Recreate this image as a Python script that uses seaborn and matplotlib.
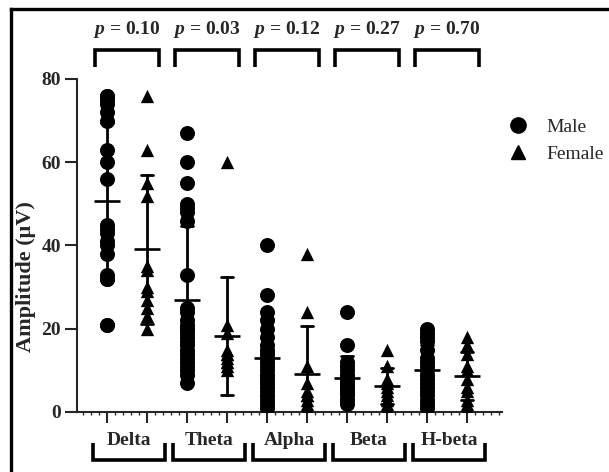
import pandas as pd
import numpy as np
import matplotlib
matplotlib.use('Agg')
import matplotlib.pyplot as plt
import seaborn as sns
from matplotlib.lines import Line2D
from matplotlib.ticker import MultipleLocator

# 频段与 p 值
bands = ['Delta', 'Theta', 'Alpha', 'Beta', 'H-beta']
p_values = ['0.10', '0.03', '0.12', '0.27', '0.70']

# 每组振幅 (μV)
delta_male = [76, 76, 75, 74, 72, 70, 63, 60, 56, 45, 44, 43, 41, 40, 38, 33, 32, 32, 21, 21]
delta_female = [76, 63, 55, 52, 35, 34, 30, 29, 27, 25, 23, 20]
theta_male = [67, 60, 55, 50, 49, 48, 46, 33, 25, 24, 22, 21, 20, 20, 19, 18, 17,
              16, 15, 14, 13, 12, 11, 10, 9, 7]
theta_female = [60, 21, 19, 15, 14, 14, 13, 12, 12, 11, 10]
alpha_male = [40, 28, 24, 22, 20, 18, 16, 15, 14, 13, 12, 11, 10, 9, 9, 8, 7, 6, 5, 4, 3, 2, 1]
alpha_female = [38, 24, 11, 7, 5, 4, 4, 3, 2, 1, 1]
beta_male = [24, 16, 12, 11, 10, 9, 9, 8, 8, 7, 7, 6, 5, 5, 4, 3, 3, 2]
beta_female = [15, 11, 8, 7, 6, 5, 4, 3, 2, 1]
hbeta_male = [20, 19, 18, 17, 15, 13, 12, 11, 10, 9, 8, 7, 6, 5, 4, 3, 2, 1]
hbeta_female = [18, 16, 14, 11, 10, 8, 6, 5, 3, 2, 1]

male_data = [delta_male, theta_male, alpha_male, beta_male, hbeta_male]
female_data = [delta_female, theta_female, alpha_female, beta_female, hbeta_female]

rows = []
for b, m, f in zip(bands, male_data, female_data):
    rows += [(b + '_M', 'Male', v) for v in m]
    rows += [(b + '_F', 'Female', v) for v in f]
df = pd.DataFrame(rows, columns=['group', 'sex', 'value'])
order = [b + s for b in bands for s in ['_M', '_F']]

sns.set_style('ticks')
plt.rcParams['font.family'] = ['Liberation Serif', 'DejaVu Serif']
plt.rcParams['mathtext.fontset'] = 'custom'
plt.rcParams['mathtext.it'] = 'Liberation Serif:italic:bold'
plt.rcParams['mathtext.rm'] = 'Liberation Serif:bold'

fig = plt.figure(figsize=(6.09, 4.72), dpi=100)
ax = fig.add_axes([77/609, 1-412/472, 425/609, 333/472])

sns.stripplot(data=df[df.sex == 'Male'], x='group', y='value', order=order,
              jitter=False, marker='o', size=10.8, color='black', linewidth=0, ax=ax)
sns.stripplot(data=df[df.sex == 'Female'], x='group', y='value', order=order,
              jitter=False, marker='^', size=9.6, color='black', linewidth=0, ax=ax)
sns.pointplot(data=df, x='group', y='value', order=order, errorbar='sd',
              capsize=0.3, color='black', marker='_', markersize=18.7,
              markeredgewidth=1.9, linestyle='none', err_kws={'linewidth': 2},
              ax=ax)

ax.set_xlim(-0.75, 9.875)
ax.set_ylim(0, 80)
ax.set_yticks([0, 20, 40, 60, 80])
ax.set_xticks(range(10))
ax.set_xticklabels([])
ax.xaxis.set_minor_locator(MultipleLocator(0.2))
ax.set_xlabel('')
ax.set_ylabel('')
sns.despine(ax=ax)
for s in ['left', 'bottom']:
    ax.spines[s].set_linewidth(1.5)
ax.tick_params(axis='y', which='major', length=8.5, width=1.5, labelsize=14, pad=3)
ax.tick_params(axis='x', which='major', length=8, width=1.5)
ax.tick_params(axis='x', which='minor', length=2.5, width=1)
for lab in ax.get_yticklabels():
    lab.set_fontweight('bold')

fig.text(26/609, 1-277/472, 'Amplitude (μV)', rotation=90, ha='center', va='center',
         fontsize=16, fontweight='bold')

# 上方 p 值括号与下方频段括号
for i, (b, p) in enumerate(zip(bands, p_values)):
    c = 2*i + 0.5
    ax.plot([c-0.8, c-0.8, c+0.8, c+0.8], [83, 87, 87, 83], color='black',
            lw=2.6, clip_on=False, solid_capstyle='butt', solid_joinstyle='miter')
    ax.text(c, 91.8, '$p$ = ' + p, ha='center', va='center', fontsize=14,
            fontweight='bold')
    ax.plot([c-0.85, c-0.85, c+0.95, c+0.95], [-7.4, -11.5, -11.5, -7.4], color='black',
            lw=2.6, clip_on=False, solid_capstyle='butt', solid_joinstyle='miter')
    ax.text(c+0.05, -6.8, b, ha='center', va='center', fontsize=14, fontweight='bold')

handles = [Line2D([], [], marker='o', ls='', color='black', ms=11),
           Line2D([], [], marker='^', ls='', color='black', ms=10)]
fig.legend(handles=handles, labels=['Male', 'Female'], loc='upper left',
           bbox_to_anchor=(508/609, 1-118/472), frameon=False, fontsize=14,
           handlelength=1.0, handletextpad=1.0, labelspacing=0.5,
           borderpad=0, borderaxespad=0)

# 外框（只露出左边和上边）
fig.add_artist(Line2D([11/609, 11/609], [0, 1-9/472], transform=fig.transFigure,
                      color='black', lw=2.4, solid_capstyle='projecting'))
fig.add_artist(Line2D([11/609, 1], [1-9/472, 1-9/472], transform=fig.transFigure,
                      color='black', lw=2.4, solid_capstyle='projecting'))

fig.savefig('out.png', dpi=100)
